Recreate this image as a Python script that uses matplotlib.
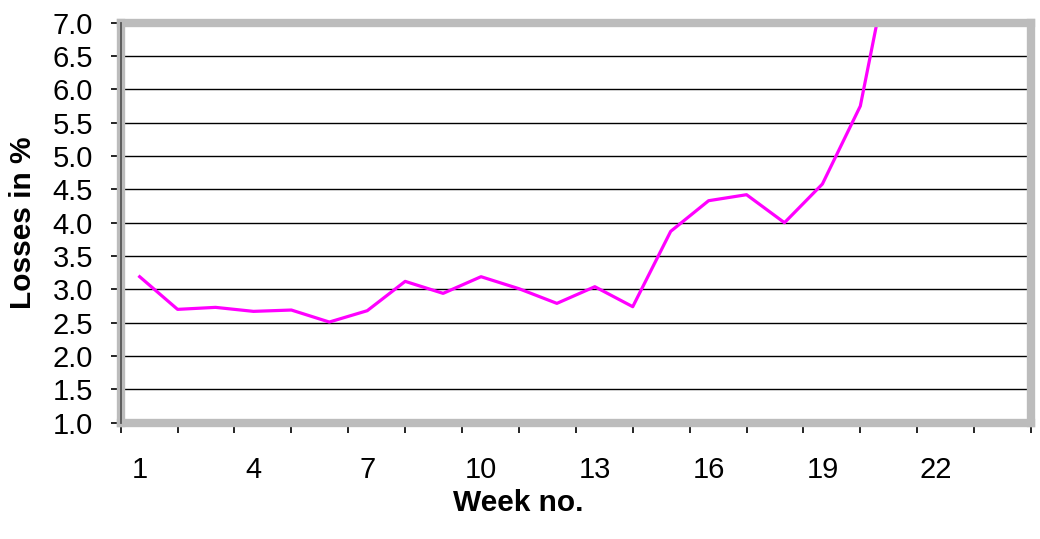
import matplotlib
matplotlib.use("Agg")
import matplotlib.pyplot as plt
from matplotlib.ticker import FixedLocator

plt.rcParams['font.family'] = ['Liberation Sans', 'DejaVu Sans']

weeks = list(range(1, 22))
losses = [3.19, 2.70, 2.73, 2.67, 2.69, 2.51, 2.68, 3.12, 2.94, 3.19,
          3.01, 2.79, 3.04, 2.74, 3.87, 4.33, 4.42, 4.00, 4.58, 5.75, 8.6]
week_labels = [1, 4, 7, 10, 13, 16, 19, 22]
y_ticks = [1.0 + 0.5 * i for i in range(13)]

W, H = 1040, 539
fig = plt.figure(figsize=(W / 100, H / 100), dpi=100)
left, right, top, bottom = 120.7, 1031.0, 22.7, 422.7
ax = fig.add_axes([left / W, 1 - bottom / H, (right - left) / W, (bottom - top) / H])

ax.plot(weeks, losses, color='#ff00ff', lw=2.3, clip_on=True, zorder=3)

ax.set_xlim(0.5, 24.5)
ax.set_ylim(1.0, 7.0)

ax.yaxis.set_major_locator(FixedLocator(y_ticks))
ax.set_yticklabels([f"{v:.1f}" for v in y_ticks], fontsize=21)
ax.grid(axis='y', color='black', lw=1.0, zorder=1)

# category-style tick marks on the x axis, labels every third week
ax.xaxis.set_major_locator(FixedLocator([0.5 + 1.5 * k for k in range(17)]))
ax.xaxis.set_minor_locator(FixedLocator(week_labels))
ax.set_xticklabels([])
ax.set_xticklabels([str(w) for w in week_labels], minor=True, fontsize=21)
ax.tick_params(axis='x', which='major', direction='out', length=7, width=1.2, color='black')
ax.tick_params(axis='x', which='minor', length=0, pad=24)
ax.tick_params(axis='y', direction='out', length=7, width=1.2, color='black', pad=13)

# patterned grey frame around the plot area
for s in ax.spines.values():
    s.set_color('#bcbcbc')
    s.set_linewidth(6)
    s.set_zorder(4)
ax.axvline(0.5, color='#555555', lw=1.3, zorder=5, clip_on=False)

ax.set_xlabel('Week no.', fontsize=21.5, fontweight='bold')
ax.xaxis.set_label_coords(0.4365, -0.165)
ax.set_ylabel('Losses in %', fontsize=21.5, fontweight='bold', labelpad=11)

fig.savefig('out.png', dpi=100)
